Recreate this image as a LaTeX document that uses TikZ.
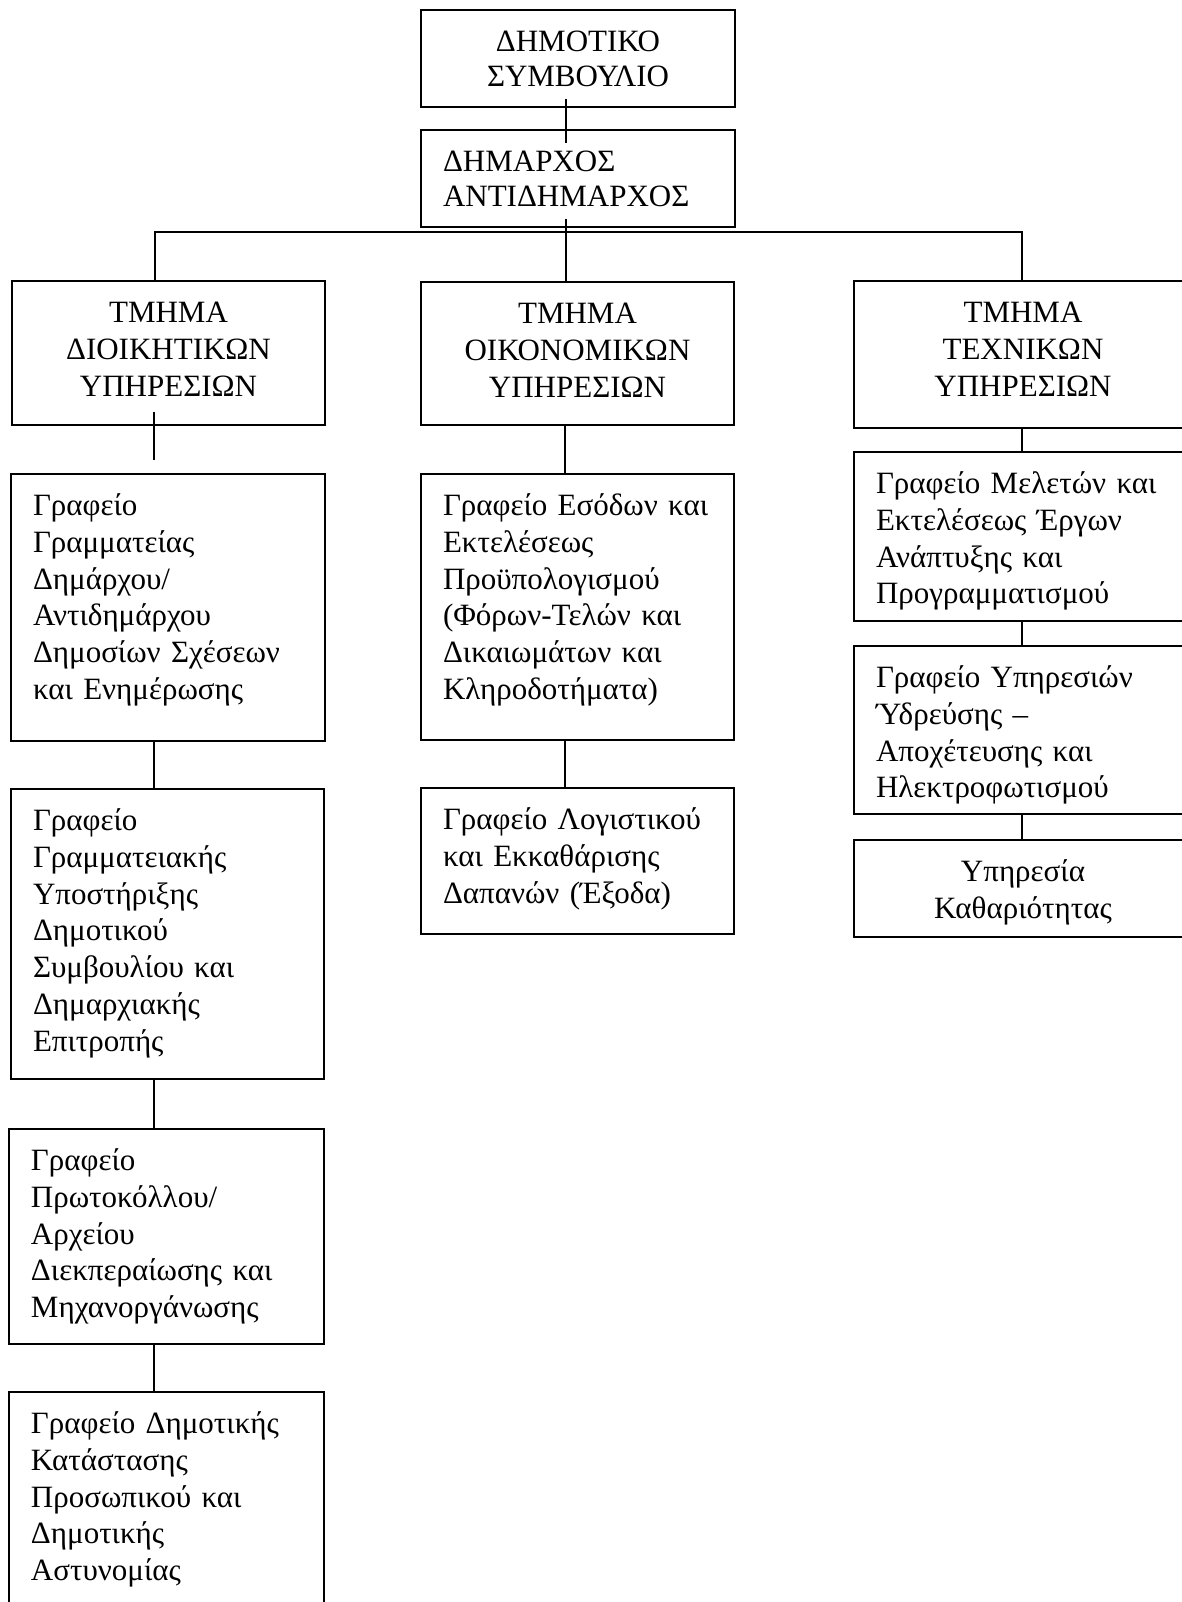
\documentclass[tikz,border=0pt]{standalone}
\usepackage{fontspec}
\setmainfont{Liberation Serif}
\usetikzlibrary{calc}

% box geometry (in pt); coordinates below are given in pixel units
\newlength\padx \setlength\padx{11pt}
\newlength\pady \setlength\pady{10.75pt}
\newlength\capht \setlength\capht{10pt}

\tikzset{
  orgbox/.style={draw, line width=1pt, anchor=north west, fill=white,
    inner xsep=\padx, inner ysep=\pady, text height=\capht,
    font=\fontsize{15.5}{18.4}\selectfont},
  topfont/.style={font=\fontsize{15.5}{17.3}\selectfont},
  link/.style={draw, line width=1pt},
}

% #1 extra style, #2 name, #3 x1, #4 y1, #5 x2, #6 y2 (pixels), #7 text
\newcommand\placebox[7]{%
  \pgfmathsetlengthmacro\boxtw{(#5-#3)*0.5pt-2*\padx}%
  \pgfmathsetlengthmacro\boxtd{(#6-#4)*0.5pt-2*\pady-\capht}%
  \node[orgbox,#1,text width=\boxtw,text depth=\boxtd] (#2) at (#3,#4) {#7};%
}

\begin{document}
\begin{tikzpicture}[x=0.5pt,y=-0.5pt]
  \useasboundingbox (0,0) rectangle (1182,1602);
  \fill[white] (0,0) rectangle (1182,1602);
  \clip (0,0) rectangle (1182,1602);

  % council and mayor
  \placebox{align=center,topfont}{T1}{420}{9}{734}{106}{ΔΗΜΟΤΙΚΟ\\ΣΥΜΒΟΥΛΙΟ}
  \placebox{align=left,topfont}{T2}{420}{129}{734}{226}{ΔΗΜΑΡΧΟΣ\\ΑΝΤΙΔΗΜΑΡΧΟΣ}

  % departments
  \placebox{align=center}{DL}{11}{280}{324}{424}{ΤΜΗΜΑ\\ΔΙΟΙΚΗΤΙΚΩΝ\\ΥΠΗΡΕΣΙΩΝ}
  \placebox{align=center}{DM}{420}{281}{733}{424}{ΤΜΗΜΑ\\ΟΙΚΟΝΟΜΙΚΩΝ\\ΥΠΗΡΕΣΙΩΝ}
  \placebox{align=center}{DR}{853}{280}{1191}{427}{ΤΜΗΜΑ\\ΤΕΧΝΙΚΩΝ\\ΥΠΗΡΕΣΙΩΝ}

  % administrative offices
  \placebox{align=left}{L1}{10}{473}{324}{740}{Γραφείο\\Γραμματείας\\Δημάρχου/\\Αντιδημάρχου\\Δημοσίων~Σχέσεων\\και~Ενημέρωσης}
  \placebox{align=left}{L2}{10}{788}{323}{1078}{Γραφείο\\Γραμματειακής\\Υποστήριξης\\Δημοτικού\\Συμβουλίου~και\\Δημαρχιακής\\Επιτροπής}
  \placebox{align=left}{L3}{8}{1128}{323}{1343}{Γραφείο\\Πρωτοκόλλου/\\Αρχείου\\Διεκπεραίωσης~και\\Μηχανοργάνωσης}
  \placebox{align=left}{L4}{8}{1391}{323}{1660}{Γραφείο~Δημοτικής\\Κατάστασης\\Προσωπικού~και\\Δημοτικής\\Αστυνομίας}

  % financial offices
  \placebox{align=left}{M1}{420}{473}{733}{739}{Γραφείο~Εσόδων~και\\Εκτελέσεως\\Προϋπολογισμού\\(Φόρων-Τελών~και\\Δικαιωμάτων~και\\Κληροδοτήματα)}
  \placebox{align=left}{M2}{420}{787}{733}{933}{Γραφείο~Λογιστικού\\και~Εκκαθάρισης\\Δαπανών~(Έξοδα)}

  % technical offices
  \placebox{align=left}{R1}{853}{451}{1191}{620}{Γραφείο~Μελετών~και\\Εκτελέσεως~Έργων\\Ανάπτυξης~και\\Προγραμματισμού}
  \placebox{align=left}{R2}{853}{645}{1191}{813}{Γραφείο~Υπηρεσιών\\Ύδρεύσης~–\\Αποχέτευσης~και\\Ηλεκτροφωτισμού}
  \placebox{align=center}{R3}{853}{839}{1191}{936}{Υπηρεσία\\Καθαριότητας}

  % column axes and the distribution bus
  \coordinate (cx) at (566,232);
  \coordinate (bl) at (155,232);
  \coordinate (br) at (1022,232);
  \coordinate (lx) at (154,0);
  \coordinate (mx) at (565,0);

  % top of the hierarchy
  \draw[link, shorten <=-4.5pt, shorten >=-7pt] (T1.south -| cx) -- (T2.north -| cx);
  \draw[link, shorten <=-4.5pt] (T2.south -| cx) -- (DM.north -| cx);
  \draw[link] (DL.north -| bl) -- (bl) -- (br) -- (DR.north -| br);

  % left column
  \draw[link, shorten <=-7pt, shorten >=6.5pt] (DL.south -| lx) -- (L1.north -| lx);
  \draw[link] (L1.south -| lx) -- (L2.north -| lx);
  \draw[link] (L2.south -| lx) -- (L3.north -| lx);
  \draw[link] (L3.south -| lx) -- (L4.north -| lx);

  % middle column
  \draw[link] (DM.south -| mx) -- (M1.north -| mx);
  \draw[link] (M1.south -| mx) -- (M2.north -| mx);

  % right column
  \draw[link] (DR.south -| br) -- (R1.north -| br);
  \draw[link] (R1.south -| br) -- (R2.north -| br);
  \draw[link] (R2.south -| br) -- (R3.north -| br);
\end{tikzpicture}
\end{document}
